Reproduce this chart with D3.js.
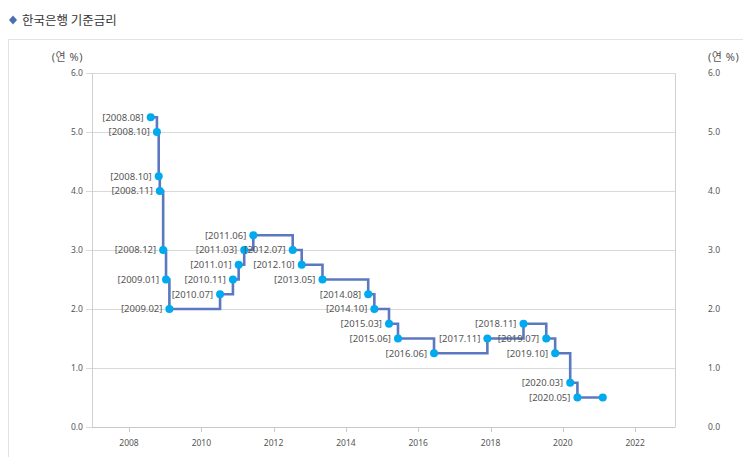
<!DOCTYPE html>
<html><head><meta charset="utf-8">
<script src="https://cdn.jsdelivr.net/npm/d3@7"></script>
<style>body{margin:0;background:#fff;}svg{display:block;}</style>
</head><body>
<svg id="c" width="743" height="457"></svg>
<script>
const title = "한국은행 기준금리";
const unitLabel = "(연 %)";
const dates = ["2008-08-07","2008-10-09","2008-10-27","2008-11-07","2008-12-11","2009-01-09","2009-02-12",
  "2010-07-09","2010-11-16","2011-01-13","2011-03-10","2011-06-10","2012-07-12","2012-10-11","2013-05-09",
  "2014-08-14","2014-10-15","2015-03-12","2015-06-11","2016-06-09","2017-11-30","2018-11-30","2019-07-18",
  "2019-10-16","2020-03-16","2020-05-28","2021-02-08"];
const rates = [5.25,5.00,4.25,4.00,3.00,2.50,2.00,2.25,2.50,2.75,3.00,3.25,3.00,2.75,2.50,2.25,2.00,1.75,1.50,1.25,1.50,1.75,1.50,1.25,0.75,0.50,0.50];
const pointLabels = ["[2008.08]","[2008.10]","[2008.10]","[2008.11]","[2008.12]","[2009.01]","[2009.02]",
  "[2010.07]","[2010.11]","[2011.01]","[2011.03]","[2011.06]","[2012.07]","[2012.10]","[2013.05]",
  "[2014.08]","[2014.10]","[2015.03]","[2015.06]","[2016.06]","[2017.11]","[2018.11]","[2019.07]",
  "[2019.10]","[2020.03]","[2020.05]",""];
const yTicks = [0,1,2,3,4,5,6];
const xTickYears = [2008,2010,2012,2014,2016,2018,2020,2022];

const svg = d3.select("#c");
const parse = d3.timeParse("%Y-%m-%d");
const data = dates.map((d,i)=>({date:parse(d), v:rates[i], label:pointLabels[i]}));

const L=92,R=675,T=73,B=427;
const x = d3.scaleTime().domain([new Date(2006,11,23), new Date(2023,1,8)]).range([L,R]);
const y = d3.scaleLinear().domain([0,6]).range([B,T]);

// panel border
svg.append("rect").attr("x",8.5).attr("y",39.5).attr("width",760).attr("height",440)
  .attr("fill","none").attr("stroke","#e3e3e3");

// title
svg.append("path").attr("d","M13,15.5 L17,20 L13,24.5 L9,20 Z").attr("fill","#4a6db3");
svg.append("text").attr("x",22).attr("y",24.5).attr("font-family","Noto Sans CJK KR")
  .attr("font-size",12.5).attr("fill","#333").text(title);

const font = "Noto Sans, Noto Sans CJK KR";
// grid
svg.append("g").selectAll("line").data(yTicks).join("line")
  .attr("x1",L-6).attr("x2",R).attr("y1",d=>Math.round(y(d))+0.5).attr("y2",d=>Math.round(y(d))+0.5)
  .attr("stroke","#d9d9d9");
// axis lines
svg.append("line").attr("x1",L+0.5).attr("x2",L+0.5).attr("y1",T).attr("y2",B).attr("stroke","#d0d0d0");
svg.append("line").attr("x1",R+0.5).attr("x2",R+0.5).attr("y1",T).attr("y2",B+0.5).attr("stroke","#d0d0d0");
svg.append("line").attr("x1",L).attr("x2",R).attr("y1",B+0.5).attr("y2",B+0.5).attr("stroke","#c8c8c8");

// y labels
svg.append("g").selectAll("text").data(yTicks).join("text")
  .attr("x",83).attr("y",d=>y(d)).attr("dy","0.35em").attr("text-anchor","end")
  .attr("font-family",font).attr("font-size",8.5).attr("fill","#555").text(d=>d3.format(".1f")(d));
svg.append("g").selectAll("text").data(yTicks).join("text")
  .attr("x",708).attr("y",d=>y(d)).attr("dy","0.35em").attr("text-anchor","start")
  .attr("font-family",font).attr("font-size",8.5).attr("fill","#555").text(d=>d3.format(".1f")(d));
svg.append("text").attr("x",83).attr("y",57).attr("dy","0.35em").attr("text-anchor","end")
  .attr("font-family",font).attr("font-size",11).attr("letter-spacing",0.5).attr("fill","#555").text(unitLabel);
svg.append("text").attr("x",708).attr("y",57).attr("dy","0.35em").attr("text-anchor","start")
  .attr("font-family",font).attr("font-size",11).attr("letter-spacing",0.5).attr("fill","#555").text(unitLabel);

// x ticks
const xt = svg.append("g");
xt.selectAll("line").data(xTickYears).join("line")
  .attr("x1",d=>Math.round(x(new Date(d,0,1)))+0.5).attr("x2",d=>Math.round(x(new Date(d,0,1)))+0.5)
  .attr("y1",B).attr("y2",B+5).attr("stroke","#c8c8c8");
xt.selectAll("text").data(xTickYears).join("text")
  .attr("x",d=>x(new Date(d,0,1))).attr("y",443).attr("dy","0.35em").attr("text-anchor","middle")
  .attr("font-family",font).attr("font-size",8.5).attr("fill","#555").text(d=>d);

// line
const line = d3.line().x(d=>x(d.date)).y(d=>y(d.v)).curve(d3.curveStepAfter);
svg.append("path").datum(data).attr("d",line).attr("fill","none")
  .attr("stroke","#5b78c0").attr("stroke-width",2.6);

// points
svg.append("g").selectAll("circle").data(data).join("circle")
  .attr("cx",d=>x(d.date)).attr("cy",d=>y(d.v)).attr("r",4).attr("fill","#00aaee");

// labels
svg.append("g").selectAll("text").data(data.filter(d=>d.label)).join("text")
  .attr("x",d=>x(d.date)-7).attr("y",d=>y(d.v)).attr("dy","0.35em").attr("text-anchor","end")
  .attr("font-family",font).attr("font-size",9.5).attr("fill","#555").text(d=>d.label);
</script>
</body></html>
